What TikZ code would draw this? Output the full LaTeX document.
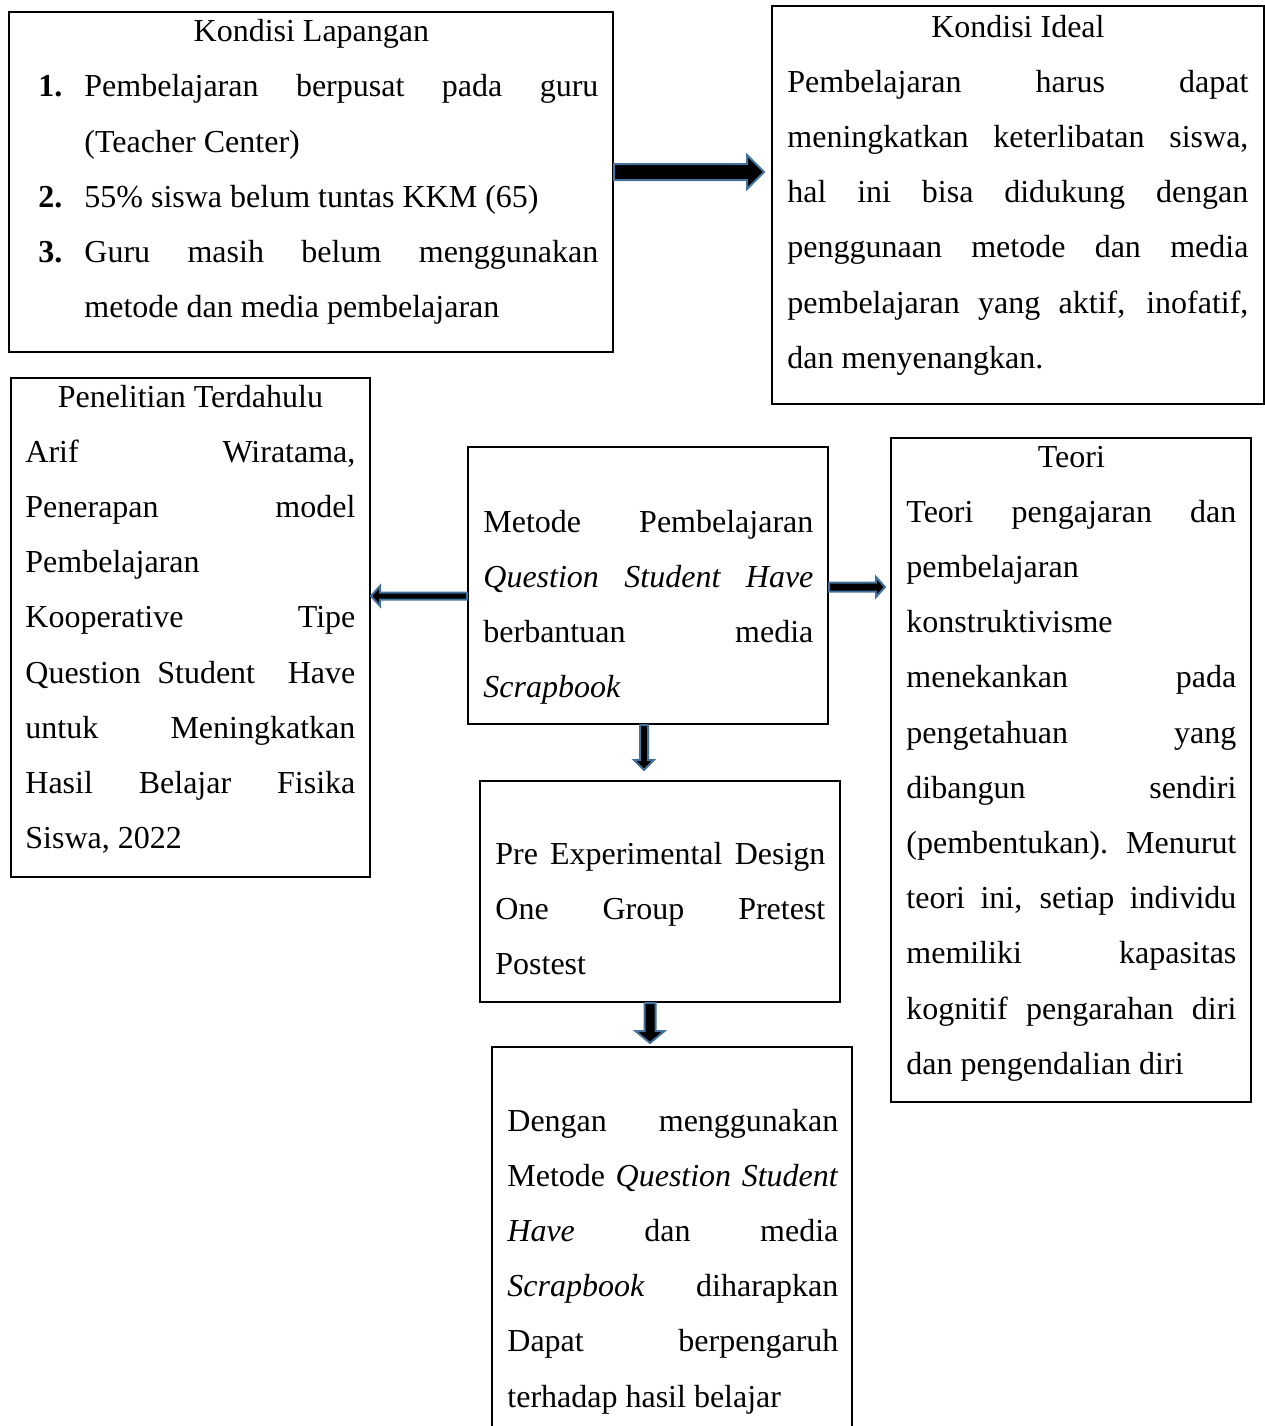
\documentclass[tikz,border=0pt]{standalone}
\usepackage{fontspec}
\setmainfont{Liberation Serif}
\usetikzlibrary{calc,fit}
\definecolor{arrowblue}{RGB}{65,113,156}
\newcommand\setsp[1]{\spaceskip=0.25em plus #1\relax\xspaceskip=\spaceskip}
\newcommand\jl[1]{{\setsp{1fil}\hbox to\linewidth{#1}}}
\newcommand\lastl[1]{{\setsp{0pt}\hbox to\linewidth{#1\hfil}}}
\newcommand\cl[1]{{\setsp{0pt}\hbox to\linewidth{\hfil#1\hfil}}}
\newcommand\numb[1]{\hbox to 23pt{\bfseries#1\hfil}}
% horizontal block arrow: start, tip, shaft half, head half, head-base offset from tip
\newcommand\hbarrow[5]{%
  \draw[barrow] ($(#1)+(0,#3)$) -- ($(#2)+(#5,#3)$) -- ($(#2)+(#5,#4)$) -- (#2)
    -- ($(#2)+(#5,-#4)$) -- ($(#2)+(#5,-#3)$) -- ($(#1)+(0,-#3)$) -- cycle;}
% vertical block arrow
\newcommand\vbarrow[5]{%
  \draw[barrow] ($(#1)+(#3,0)$) -- ($(#2)+(#3,#5)$) -- ($(#2)+(#4,#5)$) -- (#2)
    -- ($(#2)+(-#4,#5)$) -- ($(#2)+(-#3,#5)$) -- ($(#1)+(-#3,0)$) -- cycle;}
\tikzset{
  box/.style={draw=black, line width=1pt, inner sep=0pt},
  txt/.style={inner sep=0pt, anchor=base west, font=\fontsize{16pt}{27.6pt}\selectfont},
  barrow/.style={fill=black, draw=arrowblue, line width=1pt, line join=miter},
}
\begin{document}
\begin{tikzpicture}[x=0.5pt, y=-0.5pt]
\clip (0,0) rectangle (1265,1426);
\fill[white] (0,0) rectangle (1265,1426);

% boxes
\node[box, fit={(9,12) (613,352)}] (b1) {};
\node[box, fit={(772,6) (1264,404)}] (b2) {};
\node[box, fit={(11,378) (370,877)}] (b3) {};
\node[box, fit={(468,447) (828,724)}] (b4) {};
\node[box, fit={(891,438) (1251,1102)}] (b5) {};
\node[box, fit={(480,781) (840,1002)}] (b6) {};
\node[box, fit={(492,1047) (852,1460)}] (b7) {};

% texts
\node[txt, text width=280pt] (t1) at (38,41.7) {%
  {\setsp{0pt}\hbox to\linewidth{\hfil Kondisi Lapangan\hfil\hskip7pt}}
  \jl{\numb{1.}Pembelajaran berpusat pada guru}
  \lastl{\hskip23pt(Teacher Center)}
  \lastl{\numb{2.}55\% siswa belum tuntas KKM (65)}
  \jl{\numb{3.}Guru masih belum menggunakan}
  \lastl{\hskip23pt metode dan media pembelajaran}};

\node[txt, text width=230.5pt] (t2) at (787,37) {%
  \cl{Kondisi Ideal}
  \jl{Pembelajaran harus dapat}
  \jl{meningkatkan keterlibatan siswa,}
  \jl{hal ini bisa didukung dengan}
  \jl{penggunaan metode dan media}
  \jl{pembelajaran yang aktif, inofatif,}
  \lastl{dan menyenangkan.}};

\node[txt, text width=165pt] (t3) at (25,407) {%
  \cl{Penelitian Terdahulu}
  \jl{Arif Wiratama,}
  \jl{Penerapan model}
  \lastl{Pembelajaran}
  \jl{Kooperative Tipe}
  \jl{Question Student\ \ Have}
  \jl{untuk Meningkatkan}
  \jl{Hasil Belajar Fisika}
  \lastl{Siswa, 2022}};

\node[txt, text width=165pt] (t4) at (483,532) {%
  \jl{Metode Pembelajaran}
  \jl{\itshape Question Student Have}
  \jl{berbantuan media}
  \lastl{\itshape Scrapbook}};

\node[txt, text width=165pt] (t5) at (906,467) {%
  \cl{Teori}
  \jl{Teori pengajaran dan}
  \lastl{pembelajaran}
  \lastl{konstruktivisme}
  \jl{menekankan pada}
  \jl{pengetahuan yang}
  \jl{dibangun sendiri}
  \jl{(pembentukan). Menurut}
  \jl{teori ini, setiap individu}
  \jl{memiliki kapasitas}
  \jl{kognitif pengarahan diri}
  \lastl{dan pengendalian diri}};

\node[txt, text width=165pt] (t6) at (495,864) {%
  \jl{Pre Experimental Design}
  \jl{One Group Pretest}
  \lastl{Postest}};

\node[txt, text width=165.5pt] (t7) at (507,1131) {%
  \jl{Dengan menggunakan}
  \jl{Metode \textit{Question} \textit{Student}}
  \jl{\textit{Have} dan media}
  \jl{\textit{Scrapbook} diharapkan}
  \jl{Dapat berpengaruh}
  \lastl{terhadap hasil belajar}};

% arrows
\coordinate (y1) at (0,172);
\coordinate (a1s) at (b1.east |- y1);
\coordinate (a1e) at ($(b2.west |- y1)+(-7,0)$);
\hbarrow{a1s}{a1e}{8}{17}{-17}

\coordinate (y2) at (0,596);
\coordinate (a2s) at (b4.west |- y2);
\coordinate (a2e) at (b3.east |- y2);
\hbarrow{a2s}{a2e}{3.5}{10}{9}

\coordinate (y3) at (0,587);
\coordinate (a3s) at (b4.east |- y3);
\coordinate (a3e) at ($(b5.west |- y3)+(-5,0)$);
\hbarrow{a3s}{a3e}{4.5}{10}{-9}

\coordinate (x4) at (644,0);
\coordinate (a4s) at (b4.south -| x4);
\coordinate (a4e) at ($(b6.north -| x4)+(0,-10)$);
\vbarrow{a4s}{a4e}{4}{10}{-10}

\coordinate (x5) at (650,0);
\coordinate (a5s) at (b6.south -| x5);
\coordinate (a5e) at ($(b7.north -| x5)+(0,-3)$);
\vbarrow{a5s}{a5e}{5.5}{14.5}{-12}
\end{tikzpicture}
\end{document}
